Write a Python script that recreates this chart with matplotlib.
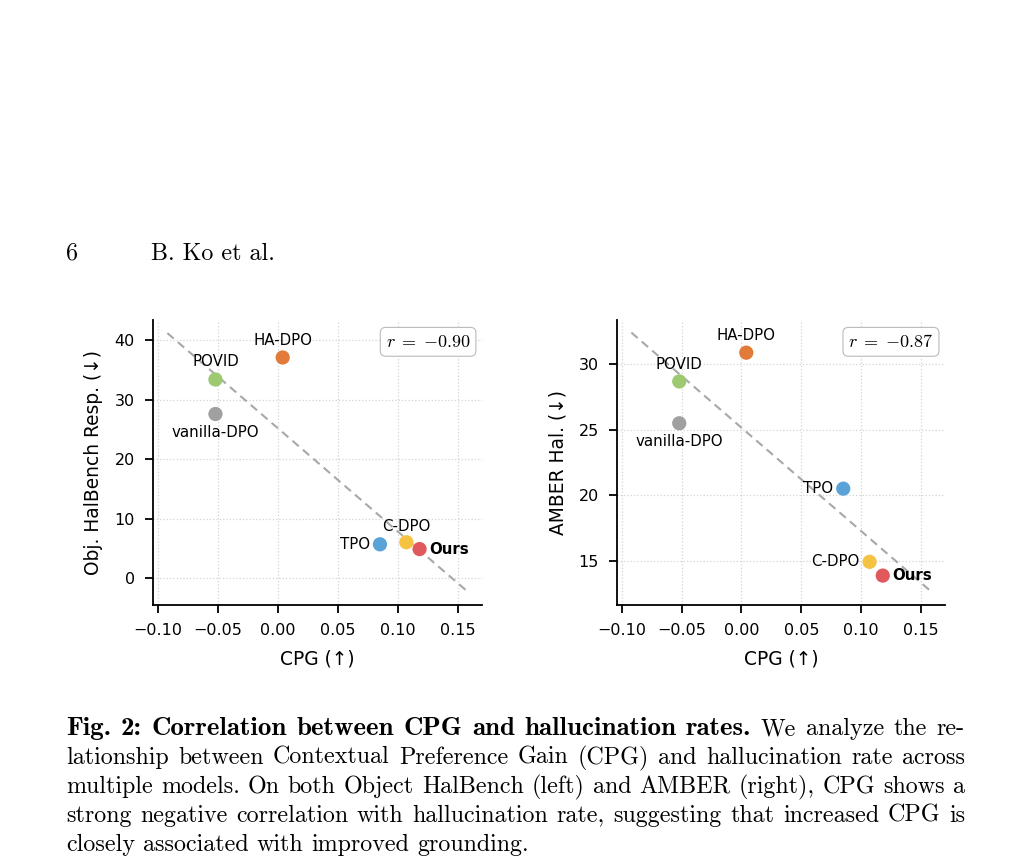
import numpy as np
import matplotlib
matplotlib.use('Agg')
from matplotlib import pyplot as plt

# data
models = ['vanilla-DPO', 'POVID', 'HA-DPO', 'TPO', 'C-DPO', 'Ours']
cpg = [-0.052, -0.052, 0.004, 0.085, 0.107, 0.118]
halbench = [27.6, 33.4, 37.1, 5.7, 6.05, 4.9]
amber = [25.5, 28.7, 30.9, 20.5, 14.9, 13.85]
colors = ['#a0a0a0', '#9dc971', '#e27b3a', '#5aa3d8', '#f5c242', '#e05a5d']

xticks = [-0.10, -0.05, 0.00, 0.05, 0.10, 0.15]
halbench_yticks = [0, 10, 20, 30, 40]
amber_yticks = [15, 20, 25, 30]

caption_bold = 'Fig. 2: Correlation between CPG and hallucination rates.'
caption_lines = [
    'We analyze the re-',
    'lationship between Contextual Preference Gain (CPG) and hallucination rate across',
    'multiple models. On both Object HalBench (left) and AMBER (right), CPG shows a',
    'strong negative correlation with hallucination rate, suggesting that increased CPG is',
    'closely associated with improved grounding.',
]

# label offsets (points) and alignment per panel
left_labels = {
    'vanilla-DPO': ((0, -13.5), 'center'), 'POVID': ((0, 13), 'center'),
    'HA-DPO': ((0, 12.5), 'center'), 'TPO': ((-7, 0), 'right'),
    'C-DPO': ((0, 11.5), 'center'), 'Ours': ((7, 0), 'left'),
}
right_labels = {
    'vanilla-DPO': ((0, -13), 'center'), 'POVID': ((0, 12.5), 'center'),
    'HA-DPO': ((0, 12.5), 'center'), 'TPO': ((-7, 0), 'right'),
    'C-DPO': ((-7, 0), 'right'), 'Ours': ((7, 0), 'left'),
}

plt.rcParams['mathtext.fontset'] = 'cm'
plt.rcParams['axes.linewidth'] = 1.3
plt.rcParams['xtick.major.size'] = 5.8
plt.rcParams['ytick.major.size'] = 5.8
plt.rcParams['xtick.major.width'] = 1.3
plt.rcParams['ytick.major.width'] = 1.3
plt.rcParams['xtick.major.pad'] = 7.2
plt.rcParams['ytick.major.pad'] = 7.2

W, H = 1030, 867
fig = plt.figure(figsize=(W / 100, H / 100), dpi=100)


def draw_panel(rect, y, yticks, ylim, ylabel, labels):
    ax = fig.add_axes(rect)
    x = np.array(cpg)
    yv = np.array(y)
    slope, icpt = np.polyfit(x, yv, 1)
    xs = np.array([x.min() - 0.04, x.max() + 0.04])
    ax.plot(xs, slope * xs + icpt, ls=(0, (4, 2.6)), color='#a8a8a8', lw=1.5, zorder=2)
    ax.scatter(x, yv, s=105, c=colors, edgecolors='none', zorder=3)
    for name, xi, yi in zip(models, x, yv):
        off, ha = labels[name]
        ax.annotate(name, (xi, yi), xytext=off, textcoords='offset points',
                    ha=ha, va='center', fontsize=10.8,
                    fontweight='bold' if name == 'Ours' else 'normal')
    r = np.corrcoef(x, yv)[0, 1]
    rs = f'{r:.2f}'
    ax.text(0.965, 0.955, r'$r\;=\;{' + rs + '}$', transform=ax.transAxes,
            ha='right', va='top', fontsize=13,
            bbox=dict(boxstyle='round,pad=0.3', fc='white', ec='#bbbbbb', lw=0.8))
    ax.set_xlim(-0.104, 0.170)
    ax.set_ylim(*ylim)
    ax.set_xticks(xticks)
    ax.set_yticks(yticks)
    ax.tick_params(labelsize=11.5)
    ax.grid(True, ls=':', color='#d4d4d4', lw=0.9)
    ax.set_axisbelow(True)
    for side in ['top', 'right']:
        ax.spines[side].set_visible(False)
    ax.set_xlabel('CPG (↑)', fontsize=13.4, labelpad=8)
    ax.set_ylabel(ylabel, fontsize=13.4, labelpad=8)
    return ax


draw_panel([153 / W, 1 - 605 / H, 329 / W, 285 / H], halbench, halbench_yticks,
           (-4.5, 43.4), 'Obj. HalBench Resp. (↓)', left_labels)
draw_panel([617 / W, 1 - 605 / H, 328 / W, 285 / H], amber, amber_yticks,
           (11.6, 33.4), 'AMBER Hal. (↓)', right_labels)

# page header
fs = 17.3
fig.text(66 / W, 1 - 260 / H, '6', family='cmr10', fontsize=fs, va='baseline')
fig.text(151 / W, 1 - 260 / H, 'B. Ko et al.', family='cmr10', fontsize=fs, va='baseline')

# caption, justified
renderer = fig.canvas.get_renderer()


def width(s, family, size):
    t = fig.text(0, 0, s, family=family, fontsize=size)
    w = t.get_window_extent(renderer).width
    t.remove()
    return w


x0, x1 = 66, 965
# the bold run in the reference is a wider (extended) face; match its span
fs_bold = fs * 697 / width(caption_bold, 'cmb10', fs)
fs_bold = min(fs_bold, fs * 1.12)

words_by_line = []
first = [(w, 'cmb10', fs_bold) for w in caption_bold.split()] + \
        [(w, 'cmr10', fs) for w in caption_lines[0].split()]
words_by_line.append(first)
for line in caption_lines[1:]:
    words_by_line.append([(w, 'cmr10', fs) for w in line.split()])

space = width('a b', 'cmr10', fs) - width('ab', 'cmr10', fs)
for i, words in enumerate(words_by_line):
    yb = 1 - (735 + 29 * i) / H
    widths = [width(w, f, s) for w, f, s in words]
    last = i == len(words_by_line) - 1
    gap = space if last else (x1 - x0 - sum(widths)) / (len(words) - 1)
    xp = x0
    for (w, f, s), wd in zip(words, widths):
        fig.text(xp / W, yb, w, family=f, fontsize=s, va='baseline')
        xp += wd + gap

fig.savefig('out.png', dpi=100)
